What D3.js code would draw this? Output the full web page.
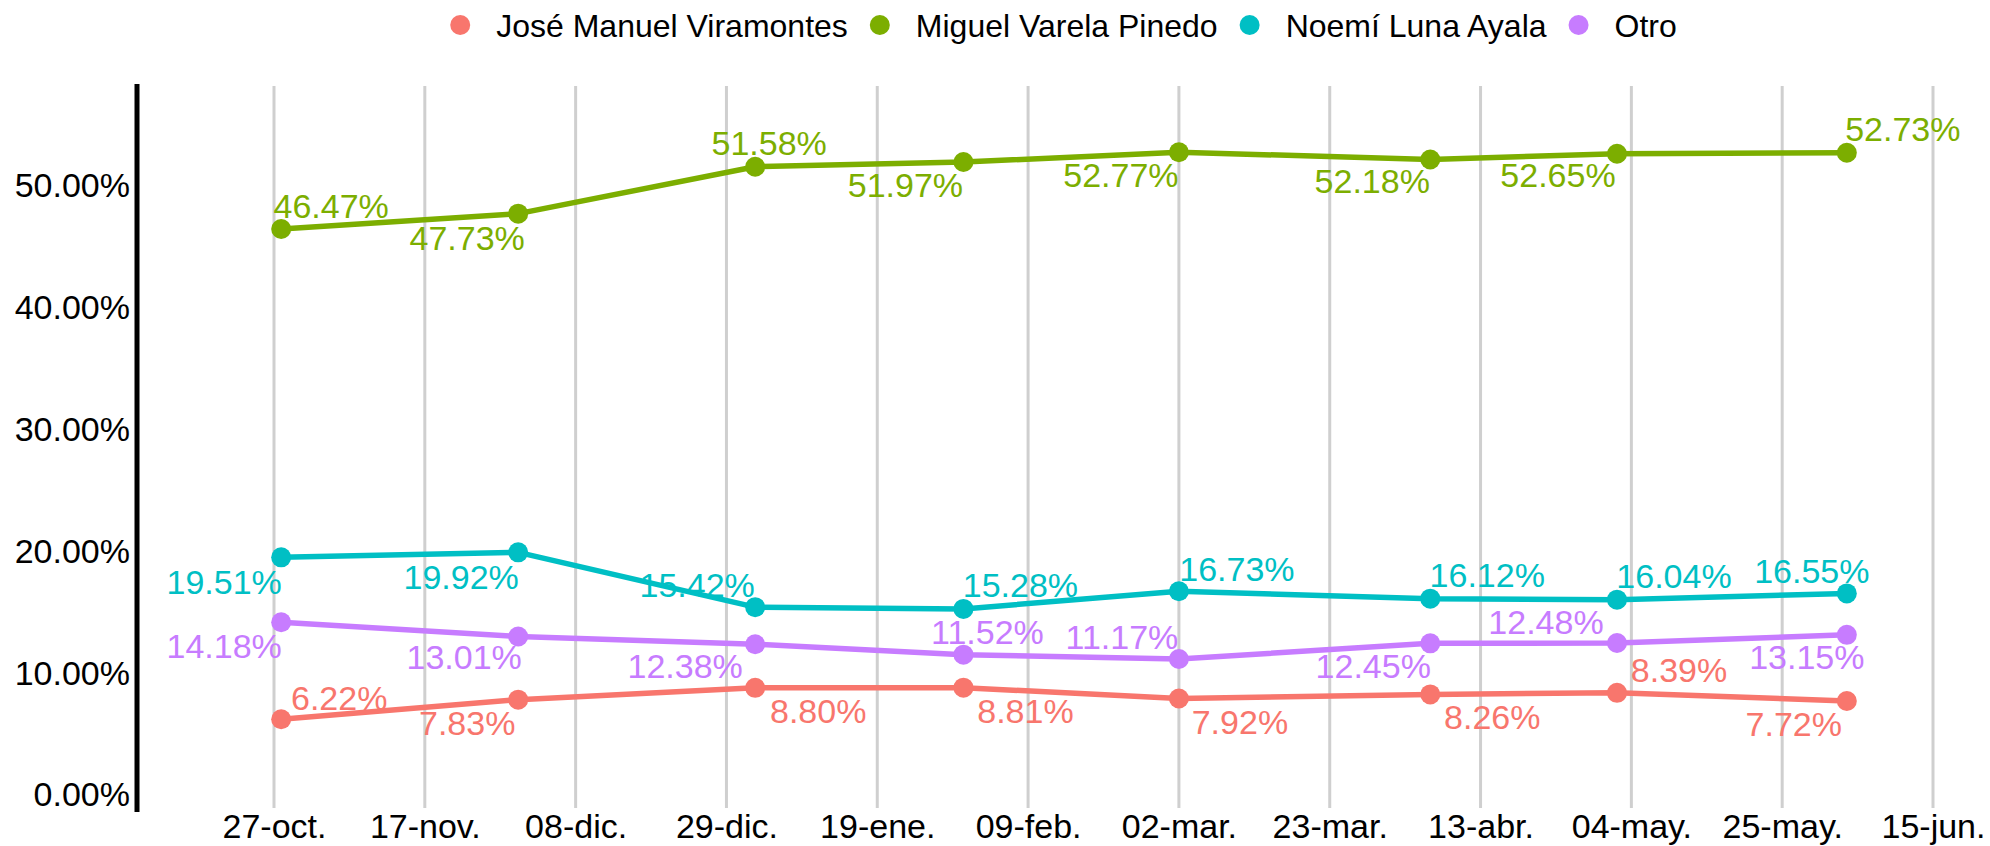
<!DOCTYPE html>
<html>
<head>
<meta charset="utf-8">
<script src="https://cdn.jsdelivr.net/npm/d3@7"></script>
<style>
  body { margin: 0; background: #fff; }
  svg { display: block; font-family: "Liberation Sans", Arial, sans-serif; }
</style>
</head>
<body>
<svg id="chart" width="1990" height="846"></svg>
<script>
// poll dates and results (%)
const pollDates = ["2024-10-28", "2024-11-30", "2025-01-02", "2025-01-31", "2025-03-02", "2025-04-06", "2025-05-02", "2025-06-03"]
const candidates = ["José Manuel Viramontes", "Miguel Varela Pinedo", "Noemí Luna Ayala", "Otro"]
const viramontes = [6.22, 7.83, 8.80, 8.81, 7.92, 8.26, 8.39, 7.72]
const varela = [46.47, 47.73, 51.58, 51.97, 52.77, 52.18, 52.65, 52.73]
const luna = [19.51, 19.92, 15.42, 15.28, 16.73, 16.12, 16.04, 16.55]
const otro = [14.18, 13.01, 12.38, 11.52, 11.17, 12.45, 12.48, 13.15]

const xTickDates = ["2024-10-27", "2024-11-17", "2024-12-08", "2024-12-29", "2025-01-19", "2025-02-09", "2025-03-02", "2025-03-23", "2025-04-13", "2025-05-04", "2025-05-25", "2025-06-15"]
const xTickLabels = ["27-oct.", "17-nov.", "08-dic.", "29-dic.", "19-ene.", "09-feb.", "02-mar.", "23-mar.", "13-abr.", "04-may.", "25-may.", "15-jun."]
const yTicks = [0, 10, 20, 30, 40, 50]

const COLORS = ["#F8766D", "#7CAE00", "#00BFC4", "#C77CFF"]

// label nudges (px) from each point, same order as the series
const labelNudge = [
  [[58,-21],[-51,24],[63,24],[62,24],[61,24],[62,23],[62,-22],[-53,23]],
  [[50,-23],[-51,25],[14,-23],[-58,23],[-58,23],[-58,22],[-59,22],[56,-23]],
  [[-57,25],[-57,25],[-58,-22],[57,-23],[58,-22],[57,-23],[57,-23],[-35,-22]],
  [[-57,24],[-54,21],[-70,22],[24,-22],[-57,-22],[-57,23],[-71,-21],[-40,23]]
]

const PANEL = {left: 137, right: 1990, top: 84, bottom: 812}
const FONT = 34
const LEGEND_FONT = 32

const parse = d3.timeParse("%Y-%m-%d")
const seriesValues = [viramontes, varela, luna, otro]
const series = candidates.map((name, i) => ({
  name: name,
  color: COLORS[i],
  points: seriesValues[i].map((v, j) => ({date: parse(pollDates[j]), value: v, nudge: labelNudge[i][j]}))
}))

const svg = d3.select("#chart")

const xScale = d3.scaleTime()
  .domain([parse(xTickDates[0]), parse(xTickDates[xTickDates.length - 1])])
  .range([274, 1933])

const yScale = d3.scaleLinear()
  .domain([0, 50])
  .range([795, 186])

// vertical gridlines
svg.append("g")
  .selectAll("line")
  .data(xTickDates)
  .join("line")
  .attr("x1", d => xScale(parse(d)))
  .attr("x2", d => xScale(parse(d)))
  .attr("y1", PANEL.top + 2)
  .attr("y2", PANEL.bottom - 4)
  .attr("stroke", "#cfcfcf")
  .attr("stroke-width", 3)

// y axis
const yAxis = svg.append("g")
  .attr("transform", `translate(${PANEL.left}, 0)`)
  .call(d3.axisLeft(yScale)
    .tickValues(yTicks)
    .tickSize(0)
    .tickPadding(7)
    .tickFormat(d => d.toFixed(2) + "%"))
yAxis.select(".domain").remove()
yAxis.selectAll("text")
  .attr("font-size", FONT)
  .attr("font-family", "Liberation Sans, Arial, sans-serif")
  .attr("fill", "#000")

svg.append("line")
  .attr("x1", PANEL.left).attr("x2", PANEL.left)
  .attr("y1", PANEL.top).attr("y2", PANEL.bottom)
  .attr("stroke", "#000")
  .attr("stroke-width", 5)

// x axis
const xAxis = svg.append("g")
  .attr("transform", `translate(0, ${PANEL.bottom})`)
  .call(d3.axisBottom(xScale)
    .tickValues(xTickDates.map(parse))
    .tickSize(0)
    .tickPadding(2)
    .tickFormat((d, i) => xTickLabels[i]))
xAxis.select(".domain").remove()
xAxis.selectAll("text")
  .attr("font-size", FONT)
  .attr("font-family", "Liberation Sans, Arial, sans-serif")
  .attr("fill", "#000")

// lines
const line = d3.line()
  .x(d => xScale(d.date))
  .y(d => yScale(d.value))

svg.append("g")
  .selectAll("path")
  .data(series)
  .join("path")
  .attr("d", d => line(d.points))
  .attr("fill", "none")
  .attr("stroke", d => d.color)
  .attr("stroke-width", 5.5)
  .attr("stroke-linejoin", "round")

// points
const groups = svg.append("g")
  .selectAll("g")
  .data(series)
  .join("g")
  .attr("fill", d => d.color)

groups.selectAll("circle")
  .data(d => d.points)
  .join("circle")
  .attr("cx", d => xScale(d.date))
  .attr("cy", d => yScale(d.value))
  .attr("r", 10)

// value labels
groups.selectAll("text")
  .data(d => d.points)
  .join("text")
  .attr("x", d => xScale(d.date) + d.nudge[0])
  .attr("y", d => yScale(d.value) + d.nudge[1])
  .attr("dy", "0.34em")
  .attr("text-anchor", "middle")
  .attr("font-size", FONT)
  .text(d => d.value.toFixed(2) + "%")

// legend, centred over the panel
const legend = svg.append("g").attr("transform", "translate(0, 25)")
const items = legend.selectAll("g")
  .data(series)
  .join("g")
items.append("circle")
  .attr("r", 10)
  .attr("fill", d => d.color)
items.append("text")
  .attr("x", 36)
  .attr("dy", "0.36em")
  .attr("font-size", LEGEND_FONT)
  .attr("fill", "#000")
  .text(d => d.name)

let offsets = []
let pos = 0
items.each(function () {
  offsets.push(pos)
  const w = d3.select(this).select("text").node().getComputedTextLength()
  pos += 36 + w + 32
})
const total = pos - 32 + 10
const start = (PANEL.left + PANEL.right) / 2 - total / 2 + 10
items.attr("transform", (d, i) => `translate(${start + offsets[i]}, 0)`)
</script>
</body>
</html>
